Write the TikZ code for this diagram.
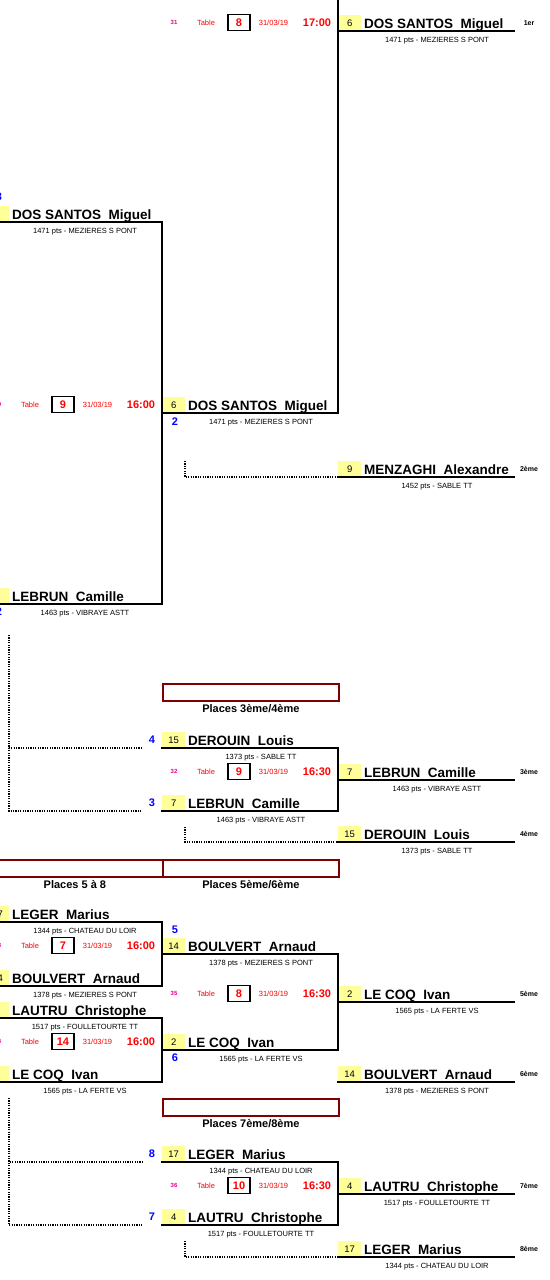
\documentclass[tikz,border=0pt]{standalone}
\usepackage{fontspec}
\setmainfont{Liberation Sans}
\usetikzlibrary{positioning}
\definecolor{seedyellow}{RGB}{255,255,153}
\definecolor{placered}{RGB}{128,0,0}
\tikzset{
  bar/.style={line width=1.8pt, line cap=rect},
  loser/.style={line width=1.8pt, dash pattern=on 1.2pt off 1.2pt},
  seedbox/.style={fill=seedyellow, minimum width=23pt, minimum height=16pt, inner sep=0pt, font=\fontsize{9.5}{11}\selectfont},
  player/.style={inner sep=0pt, font=\bfseries\fontsize{13.5}{15}\selectfont},
  club/.style={inner sep=0pt, font=\fontsize{7.5}{9}\selectfont},
  matchno/.style={inner sep=0pt, text=magenta, font=\bfseries\fontsize{6}{7}\selectfont},
  tabletxt/.style={inner sep=0pt, text=red, font=\fontsize{7.5}{9}\selectfont},
  tablebox/.style={draw, line width=1.6pt, fill=white, minimum width=22pt, minimum height=16pt, inner sep=0pt, text=red, font=\bfseries\fontsize{11}{13}\selectfont},
  timetxt/.style={inner sep=0pt, text=red, font=\bfseries\fontsize{11}{13}\selectfont},
  roundno/.style={inner sep=0pt, text=blue, font=\bfseries\fontsize{11}{13}\selectfont},
  rank/.style={inner sep=0pt, font=\bfseries\fontsize{7}{8}\selectfont},
  placebox/.style={draw=placered, line width=1.8pt, minimum width=176pt, minimum height=17pt, inner sep=0pt},
  placetxt/.style={inner sep=0pt, font=\bfseries\fontsize{11}{13}\selectfont}
}
\newcommand{\playerslot}[6]{%
  \coordinate (#1-l) at (#2,#3);
  \coordinate (#1-r) at (#2+176,#3);
  \node[seedbox, anchor=south west] (#1-s) at (#1-l) {#4};
  \node[player, anchor=base west] (#1-n) at (#2+26,#3-3) {#5};
  \node[club, anchor=base] (#1-c) at (#2+99,#3+11) {#6};
  \draw[bar] (#1-l) -- (#1-r);
}
\newcommand{\matchinfo}[6]{%
  \node[matchno] (#1-no) at (#2-164,#3-8.5) {#4};
  \node[tabletxt] (#1-t) at (#2-132,#3-8.5) {Table};
  \node[tablebox] (#1-b) at (#2-99,#3-8.5) {#5};
  \node[tabletxt] (#1-d) at (#2-64.5,#3-8.5) {31/03/19};
  \node[timetxt] (#1-h) at (#2-21,#3-8.5) {#6};
}
\begin{document}
\begin{tikzpicture}[x=1pt, y=-1pt]
  \useasboundingbox (0,0) rectangle (549,1280);
  \clip (0,0) rectangle (549,1280);
  \fill[white] (0,0) rectangle (549,1280);

  \playerslot{a1}{-14}{222}{6}{DOS SANTOS\ \ Miguel}{1471 pts - MEZIERES S PONT}
  \playerslot{a2}{-14}{604}{7}{LEBRUN\ \ Camille}{1463 pts - VIBRAYE ASTT}
  \playerslot{a3}{-14}{922}{17}{LEGER\ \ Marius}{1344 pts - CHATEAU DU LOIR}
  \playerslot{a4}{-14}{986}{14}{BOULVERT\ \ Arnaud}{1378 pts - MEZIERES S PONT}
  \playerslot{a5}{-14}{1018}{4}{LAUTRU\ \ Christophe}{1517 pts - FOULLETOURTE TT}
  \playerslot{a6}{-14}{1082}{2}{LE COQ\ \ Ivan}{1565 pts - LA FERTE VS}

  \playerslot{b1}{162}{413}{6}{DOS SANTOS\ \ Miguel}{1471 pts - MEZIERES S PONT}
  \playerslot{b2}{162}{748}{15}{DEROUIN\ \ Louis}{1373 pts - SABLE TT}
  \playerslot{b3}{162}{811}{7}{LEBRUN\ \ Camille}{1463 pts - VIBRAYE ASTT}
  \playerslot{b4}{162}{954}{14}{BOULVERT\ \ Arnaud}{1378 pts - MEZIERES S PONT}
  \playerslot{b5}{162}{1050}{2}{LE COQ\ \ Ivan}{1565 pts - LA FERTE VS}
  \playerslot{b6}{162}{1162}{17}{LEGER\ \ Marius}{1344 pts - CHATEAU DU LOIR}
  \playerslot{b7}{162}{1225}{4}{LAUTRU\ \ Christophe}{1517 pts - FOULLETOURTE TT}

  \playerslot{c1}{338}{31}{6}{DOS SANTOS\ \ Miguel}{1471 pts - MEZIERES S PONT}
  \playerslot{c2}{338}{477}{9}{MENZAGHI\ \ Alexandre}{1452 pts - SABLE TT}
  \playerslot{c3}{338}{780}{7}{LEBRUN\ \ Camille}{1463 pts - VIBRAYE ASTT}
  \playerslot{c4}{338}{842}{15}{DEROUIN\ \ Louis}{1373 pts - SABLE TT}
  \playerslot{c5}{338}{1002}{2}{LE COQ\ \ Ivan}{1565 pts - LA FERTE VS}
  \playerslot{c6}{338}{1082}{14}{BOULVERT\ \ Arnaud}{1378 pts - MEZIERES S PONT}
  \playerslot{c7}{338}{1194}{4}{LAUTRU\ \ Christophe}{1517 pts - FOULLETOURTE TT}
  \playerslot{c8}{338}{1257}{17}{LEGER\ \ Marius}{1344 pts - CHATEAU DU LOIR}

  \coordinate (b0-r) at (338,-351);
  \draw[bar] (b0-r) -- (b1-r);
  \draw[bar] (a1-r) -- (a2-r);
  \draw[bar] (b2-r) -- (b3-r);
  \draw[bar] (a3-r) -- (a4-r);
  \draw[bar] (a5-r) -- (a6-r);
  \draw[bar] (b4-r) -- (b5-r);
  \draw[bar] (b6-r) -- (b7-r);

  \matchinfo{m31}{338}{31}{31}{8}{17:00}
  \matchinfo{m30}{162}{413}{30}{9}{16:00}
  \matchinfo{m32}{338}{780}{32}{9}{16:30}
  \matchinfo{m33}{162}{954}{33}{7}{16:00}
  \matchinfo{m35}{338}{1002}{35}{8}{16:30}
  \matchinfo{m34}{162}{1050}{34}{14}{16:00}
  \matchinfo{m36}{338}{1194}{36}{10}{16:30}

  \node[roundno] (r3a) at (-1,197) {3};
  \node[roundno] (r2a) at (-1,612) {2};
  \node[roundno] (r2) at (175,422) {2};
  \node[roundno] (r4) at (152,740) {4};
  \node[roundno] (r3) at (152,803) {3};
  \node[roundno] (r5) at (175,930) {5};
  \node[roundno] (r6) at (175,1058) {6};
  \node[roundno] (r8) at (152,1154) {8};
  \node[roundno] (r7) at (152,1217) {7};

  \node[rank] (k1) at (529,23) {1er};
  \node[rank] (k2) at (529,469) {2ème};
  \node[rank] (k3) at (529,772) {3ème};
  \node[rank] (k4) at (529,834) {4ème};
  \node[rank] (k5) at (529,994) {5ème};
  \node[rank] (k6) at (529,1074) {6ème};
  \node[rank] (k7) at (529,1186) {7ème};
  \node[rank] (k8) at (529,1249) {8ème};

  \node[placebox, anchor=north west] (p34) at (162,683) {};
  \node[placetxt, below=2pt of p34] (p34-t) {Places 3ème/4ème};
  \node[placebox, anchor=north west] (p58) at (-14,859) {};
  \node[placetxt, below=2pt of p58] (p58-t) {Places 5 à 8};
  \node[placebox, anchor=north west] (p56) at (162,859) {};
  \node[placetxt, below=2pt of p56] (p56-t) {Places 5ème/6ème};
  \node[placebox, anchor=north west] (p78) at (162,1098) {};
  \node[placetxt, below=2pt of p78] (p78-t) {Places 7ème/8ème};

  \coordinate (q2) at (185,461);
  \draw[loser, shorten >=2pt] (q2) |- (c2-l);
  \coordinate (q34) at (9,635);
  \draw[loser, shorten >=20pt] (q34) |- (b2-l);
  \draw[loser, shorten >=20pt] (q34) |- (b3-l);
  \coordinate (q4) at (185,827);
  \draw[loser, shorten >=2pt] (q4) |- (c4-l);
  \coordinate (q78) at (9,1098);
  \draw[loser, shorten >=20pt] (q78) |- (b6-l);
  \draw[loser, shorten >=20pt] (q78) |- (b7-l);
  \coordinate (q8) at (185,1241);
  \draw[loser, shorten >=2pt] (q8) |- (c8-l);
\end{tikzpicture}
\end{document}
